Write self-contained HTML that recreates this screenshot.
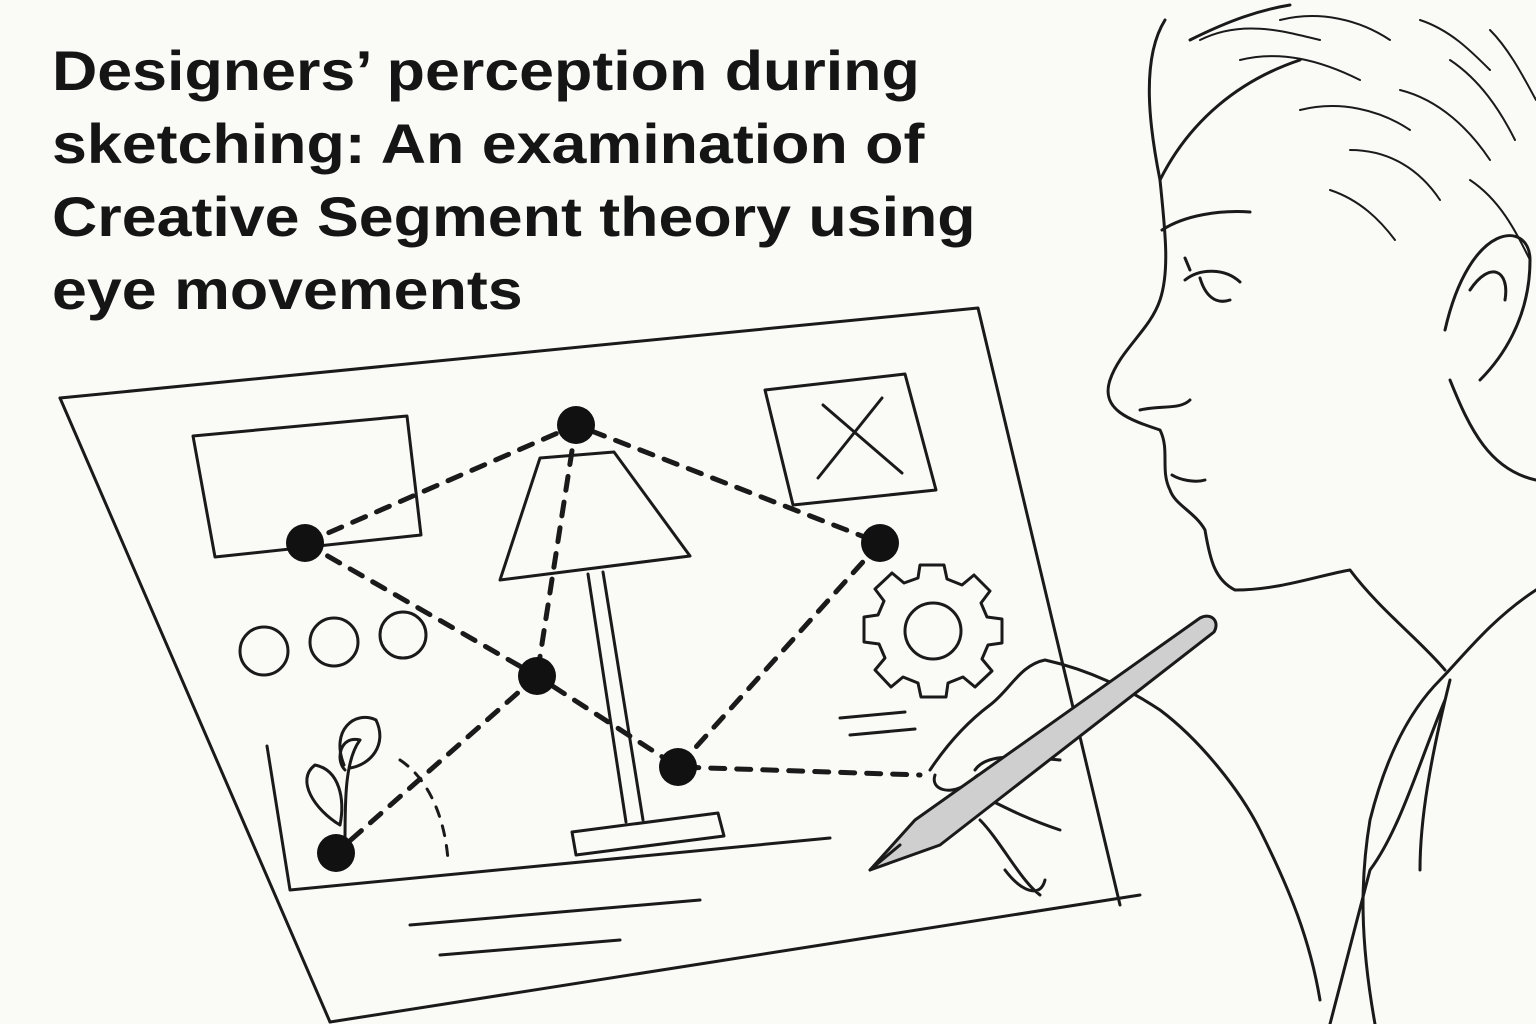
<!DOCTYPE html>
<html><head><meta charset="utf-8"><style>
html,body{margin:0;padding:0;background:#fafaf7;}
.wrap{position:relative;width:1536px;height:1024px;overflow:hidden;background:#fafaf7;}
h1{position:absolute;left:52px;top:34px;margin:0;font-family:"Liberation Sans",sans-serif;font-weight:bold;font-size:56px;line-height:73px;color:#151515;transform:scaleX(1.12);transform-origin:0 0;white-space:nowrap;}
svg{position:absolute;left:0;top:0;}
</style></head><body><div class="wrap">
<svg width="1536" height="1024" viewBox="0 0 1536 1024" fill="none" stroke="#1a1a1a" stroke-width="3" stroke-linecap="round" stroke-linejoin="round">
<path d="M60 398 L978 308 L1120 905"/>
<path d="M60 398 L330 1022"/>
<path d="M330 1022 L1140 895"/>
<path d="M193 436 L407 416 L421 535 L215 557 Z"/>
<path d="M765 390 L905 374 L936 490 L793 505 Z"/>
<path d="M818 478 L882 398 M823 405 L902 473"/>
<path d="M540 458 L614 452 L690 556 L500 580 Z"/>
<path d="M588 574 L626 822 M603 572 L643 820"/>
<path d="M572 832 L718 813 L724 836 L576 855 Z"/>
<circle cx="264" cy="651" r="24"/><circle cx="334" cy="642" r="24"/><circle cx="403" cy="635" r="23"/>
<g transform="translate(932,627)">
<path d="M-12 -62 L12 -62 L15 -48 L30 -42 L42 -52 L58 -36 L49 -24 L55 -10 L70 -8 L70 16 L56 18 L50 32 L60 44 L43 60 L31 50 L16 56 L14 70 L-11 70 L-14 56 L-29 50 L-41 60 L-57 43 L-47 31 L-53 17 L-68 15 L-68 -10 L-54 -12 L-48 -26 L-57 -38 L-40 -54 L-28 -44 L-14 -49 Z"/>
<circle cx="1" cy="4" r="28"/>
</g>
<path d="M267 746 L290 890 L830 838"/>
<path d="M345 842 C345 800 345 760 360 740 C340 735 335 760 345 770"/>
<path d="M344 765 C330 730 355 710 376 720 C388 745 370 765 350 768"/>
<path d="M340 825 C315 810 295 780 315 765 C340 770 345 800 340 825"/>
<path d="M400 760 C430 780 445 820 448 860" stroke-dasharray="10 10"/>
<path d="M410 925 L700 900 M440 955 L620 940 M840 718 L905 712 M850 735 L915 729"/>
<g stroke-dasharray="14 12" stroke-width="5">
<path d="M305 543 L576 425 L880 543"/>
<path d="M305 543 L537 676 L678 767 L920 775"/>
<path d="M576 425 L537 676"/>
<path d="M880 543 L678 767"/>
<path d="M537 676 L336 853"/>
</g>
<g fill="#111" stroke="none">
<circle cx="576" cy="425" r="19"/><circle cx="305" cy="543" r="19"/><circle cx="880" cy="543" r="19"/>
<circle cx="537" cy="676" r="19"/><circle cx="678" cy="767" r="19"/><circle cx="336" cy="853" r="19"/>
</g>
<path d="M1165 20 C1140 60 1150 130 1160 180 C1165 230 1170 270 1160 300 C1150 330 1120 350 1110 380 C1100 410 1130 420 1160 430 C1170 450 1160 470 1170 490 C1175 505 1195 512 1205 530 C1210 560 1215 580 1235 590 C1280 590 1320 575 1350 570 C1380 610 1420 640 1445 670"/>
<path d="M1160 180 C1190 120 1240 80 1300 60 M1190 40 C1230 20 1260 10 1290 5"/>
<path d="M1162 230 C1185 215 1220 210 1250 212"/>
<path d="M1185 280 C1200 268 1225 268 1240 282 M1200 278 C1205 295 1215 305 1230 300 M1190 270 L1185 258"/>
<path d="M1140 410 C1160 405 1180 410 1190 400 M1172 475 C1180 480 1195 483 1205 480"/>
<path d="M1445 330 C1470 220 1530 220 1530 260 C1530 320 1500 360 1480 380 M1470 290 C1490 260 1510 270 1505 300"/>
<path d="M1450 380 C1470 430 1490 470 1536 480"/>
<path d="M1536 590 C1490 620 1460 660 1440 680 C1400 720 1380 780 1370 820 C1360 880 1360 940 1375 1024"/>
<path d="M1450 680 C1430 760 1420 820 1420 870"/>
<g stroke-width="2">
<path d="M1200 40 C1240 20 1280 30 1320 40 M1240 60 C1280 50 1320 60 1360 80 M1300 110 C1340 100 1380 110 1410 130 M1350 150 C1390 150 1420 170 1440 200 M1280 20 C1320 10 1360 20 1390 40 M1400 90 C1440 100 1470 130 1490 160 M1450 60 C1480 80 1500 110 1515 140 M1490 30 C1510 50 1525 80 1536 100 M1420 20 C1450 30 1470 50 1490 70 M1470 180 C1500 200 1515 230 1530 260 M1330 190 C1360 200 1380 220 1395 240"/>
</g>
<path d="M930 770 C950 740 970 720 990 705 C1010 690 1020 665 1045 660 C1090 670 1130 690 1160 710 C1200 740 1240 790 1260 830 C1290 890 1310 940 1320 1000"/>
<path d="M1445 700 C1420 760 1400 830 1370 870 L1330 1024"/>
<path d="M975 770 C985 755 1010 755 1060 760 M990 800 C1010 810 1030 820 1060 830 M980 820 C1000 840 1020 880 1040 895 M1005 870 C1020 890 1040 900 1045 880 M975 795 C965 780 980 770 990 775"/>
<path d="M935 775 C930 790 950 795 965 785"/>
<path d="M870 870 L915 820 L1200 618 C1212 612 1220 622 1214 632 L940 845 Z" fill="#cfcfcf"/>
<path d="M870 870 L900 845"/>
</svg>
<h1>Designers’ perception during<br>sketching: An examination of<br>Creative Segment theory using<br>eye movements</h1>
</div></body></html>
